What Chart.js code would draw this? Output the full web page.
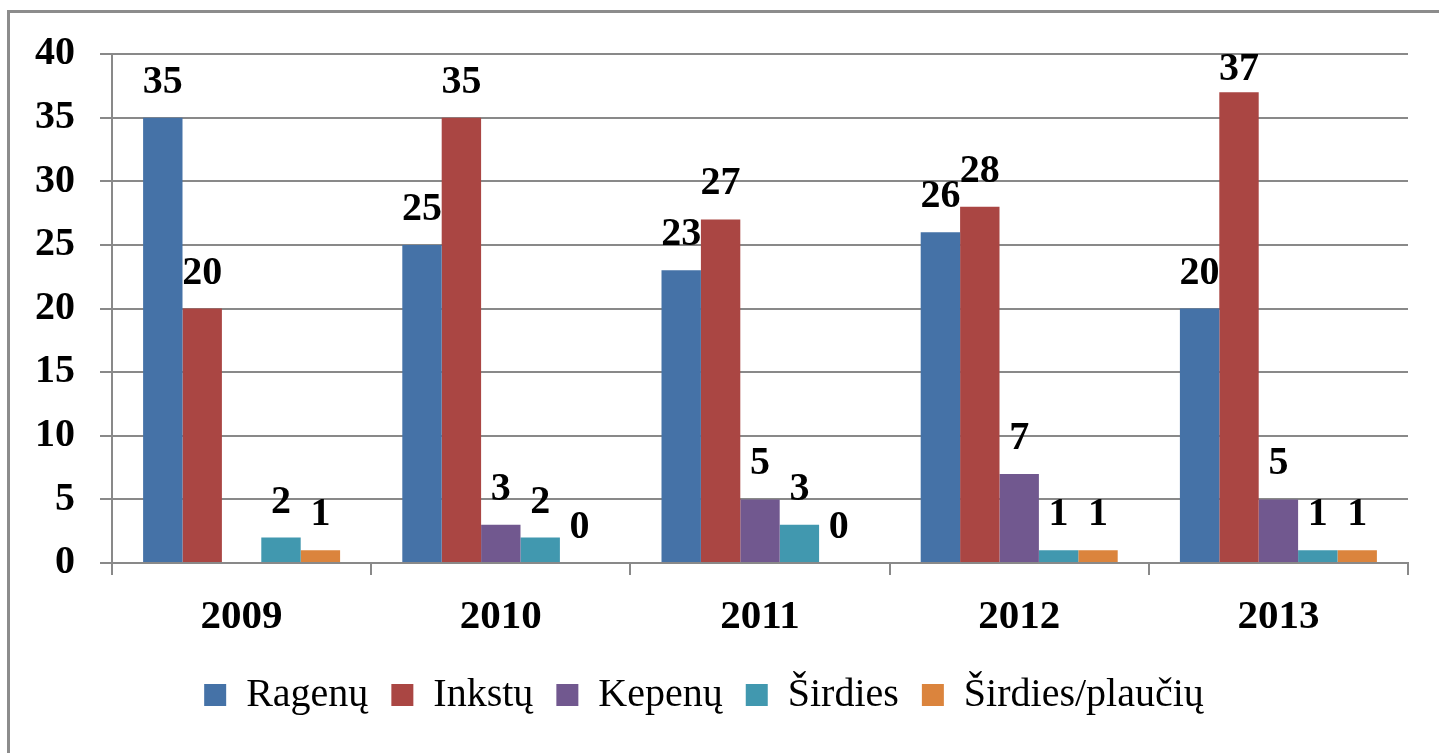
<!DOCTYPE html>
<html lang="lt">
<head>
<meta charset="utf-8">
<title>Transplantacijos 2009–2013</title>
<script src="https://cdn.jsdelivr.net/npm/chart.js@4/dist/chart.umd.min.js"></script>
<style>
    html, body { margin: 0; padding: 0; background: #fff; }
    .wrap { position: relative; width: 1439px; height: 753px; overflow: hidden; }
    .frame {
        position: absolute; left: 7px; top: 10px; width: 1500px; height: 800px;
        border-left: 3px solid #8c8c8c; border-top: 3px solid #8c8c8c;
        pointer-events: none;
    }
</style>
</head>
<body>
<div class="wrap">
    <canvas id="organChart" width="1439" height="753"></canvas>
    <div class="frame"></div>
</div>
<script>
const years = ['2009', '2010', '2011', '2012', '2013'];
const seriesNames = ['Ragenų', 'Inkstų', 'Kepenų', 'Širdies', 'Širdies/plaučių'];
const ragenu = [35, 25, 23, 26, 20];
const inkstu = [20, 35, 27, 28, 37];
const kepenu = [null, 3, 5, 7, 5];
const sirdies = [2, 2, 3, 1, 1];
const sirdiesPlauciu = [1, 0, 0, 1, 1];
const yTicks = [0, 5, 10, 15, 20, 25, 30, 35, 40];

const colors = ['#4572A7', '#AA4643', '#71588F', '#4198AF', '#DB843D'];
const serif = '"Liberation Serif", "Times New Roman", serif';
const gridColor = '#898989';

// draws the value above every bar, kept inside the frame near the top
const barValues = {
    id: 'barValues',
    afterDatasetsDraw(chart) {
        const { ctx, chartArea } = chart;
        ctx.save();
        ctx.font = 'bold 40px ' + serif;
        ctx.fillStyle = '#000';
        ctx.textAlign = 'center';
        ctx.textBaseline = 'alphabetic';
        chart.data.datasets.forEach((ds, i) => {
            const meta = chart.getDatasetMeta(i);
            meta.data.forEach((bar, j) => {
                const v = ds.data[j];
                if (v === null || v === undefined) return;
                const y = Math.max(bar.y - 25, chartArea.top + 26);
                ctx.fillText(String(v), bar.x, y);
            });
        });
        ctx.restore();
    }
};

document.addEventListener('DOMContentLoaded', () => {
    const values = [ragenu, inkstu, kepenu, sirdies, sirdiesPlauciu];

    new Chart(document.getElementById('organChart'), {
        type: 'bar',
        data: {
            labels: years,
            datasets: seriesNames.map((name, i) => ({
                label: name,
                data: values[i],
                backgroundColor: colors[i],
                borderWidth: 0,
                categoryPercentage: 0.76,
                barPercentage: 1.0
            }))
        },
        options: {
            responsive: false,
            animation: false,
            layout: { padding: { top: 54, right: 31, bottom: 28, left: 0 } },
            plugins: {
                tooltip: { enabled: false },
                legend: {
                    position: 'bottom',
                    labels: {
                        boxWidth: 22,
                        boxHeight: 22,
                        padding: 23,
                        color: '#000',
                        font: { family: serif, size: 40 }
                    }
                }
            },
            scales: {
                x: {
                    grid: {
                        offset: true,
                        drawOnChartArea: false,
                        color: gridColor,
                        lineWidth: 2,
                        tickLength: 12
                    },
                    border: { color: gridColor, width: 2 },
                    ticks: {
                        color: '#000',
                        padding: 18,
                        font: { family: serif, size: 41, weight: 'bold' }
                    },
                    afterFit(scale) { scale.height = 89; }
                },
                y: {
                    min: 0,
                    max: 40,
                    afterBuildTicks(scale) { scale.ticks = yTicks.map(v => ({ value: v })); },
                    grid: { color: gridColor, lineWidth: 2, tickLength: 12 },
                    border: { color: gridColor, width: 2 },
                    ticks: {
                        color: '#000',
                        padding: 25,
                        font: { family: serif, size: 40, weight: 'bold' }
                    },
                    afterFit(scale) { scale.width = 112; }
                }
            }
        },
        plugins: [barValues]
    });
});
</script>
</body>
</html>
